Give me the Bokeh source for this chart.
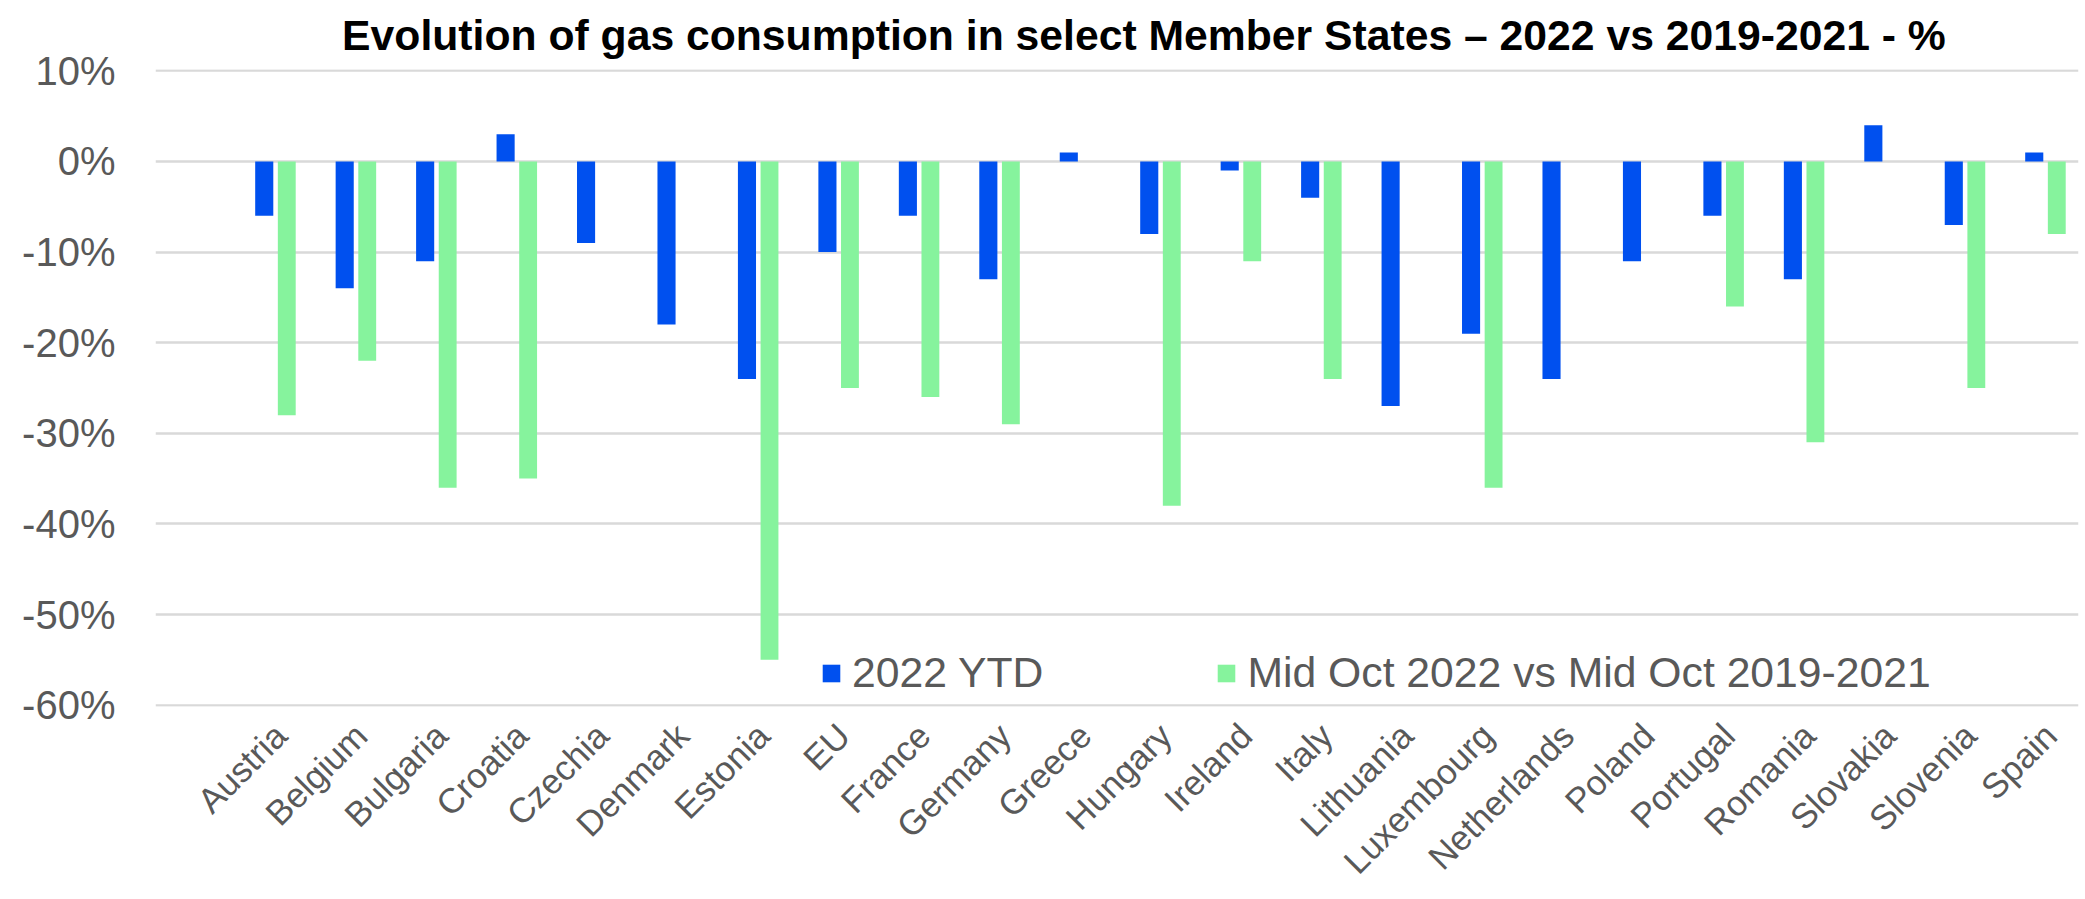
import math
import numpy as np
from bokeh.plotting import figure
from bokeh.models import (ColumnDataSource, Range1d, FixedTicker, NumeralTickFormatter,
                          Legend, LegendItem)
from bokeh.embed import file_html
from bokeh.resources import INLINE

categories = ["Austria", "Belgium", "Bulgaria", "Croatia", "Czechia", "Denmark", "Estonia",
              "EU", "France", "Germany", "Greece", "Hungary", "Ireland", "Italy", "Lithuania",
              "Luxembourg", "Netherlands", "Poland", "Portugal", "Romania", "Slovakia",
              "Slovenia", "Spain"]
ytd_2022 = [-6, -14, -11, 3, -9, -18, -24, -10, -6, -13, 1, -8, -1, -4, -27, -19, -24, -11,
            -6, -13, 4, -7, 1]
mid_oct = [-28, -22, -36, -35, None, None, -55, -25, -26, -29, None, -38, -11, -24, None,
           -36, None, None, -16, -31, None, -25, -8]
series_names = ["2022 YTD", "Mid Oct 2022 vs Mid Oct 2019-2021"]
y_ticks = [0.1, 0.0, -0.1, -0.2, -0.3, -0.4, -0.5, -0.6]
title_text = "Evolution of gas consumption in select Member States \u2013 2022 vs 2019-2021 - %"

BLUE = "#0050EF"
GREEN = "#86F39D"
GRAY = "#595959"
FONT = "Liberation Sans"

idx = np.arange(len(categories))
src_blue = ColumnDataSource(dict(x=idx - 0.14, top=np.array(ytd_2022) / 100.0))
g_idx = [i for i, v in enumerate(mid_oct) if v is not None]
src_green = ColumnDataSource(dict(x=np.array(g_idx) + 0.14,
                                  top=np.array([mid_oct[i] for i in g_idx]) / 100.0))

# category ticks, nudged slightly right so the rotated label ends sit like the original
tick_pos = [round(float(i) + 0.06, 2) for i in idx]

p = figure(width=2080, height=897, output_backend="svg", toolbar_location=None,
           x_range=Range1d(-1.4916, 22.41), y_range=Range1d(-0.6015, 0.1015),
           min_border_left=155, min_border_right=2, min_border_top=69, min_border_bottom=100)

p.title.text = title_text
p.title.text_font = FONT
p.title.text_font_size = "42.7px"
p.title.text_font_style = "bold"
p.title.text_color = "black"
p.title.align = "left"
p.title.offset = 186.6
p.title.vertical_align = "top"
p.title.standoff = 18

r_blue = p.vbar(x="x", top="top", bottom=0, width=0.225, source=src_blue,
                fill_color=BLUE, line_color=None)
r_green = p.vbar(x="x", top="top", bottom=0, width=0.222, source=src_green,
                 fill_color=GREEN, line_color=None)

p.outline_line_color = None
p.xgrid.grid_line_color = None
p.ygrid.grid_line_color = "#D9D9D9"
p.ygrid.grid_line_width = 2.5
p.ygrid.ticker = FixedTicker(ticks=y_ticks)

p.yaxis.ticker = FixedTicker(ticks=y_ticks)
p.yaxis.formatter = NumeralTickFormatter(format="0%")
p.yaxis.axis_line_color = None
p.yaxis.major_tick_line_color = None
p.yaxis.minor_tick_line_color = None
p.yaxis.major_tick_out = 0
p.yaxis.major_label_standoff = 40
p.yaxis.major_label_text_font = FONT
p.yaxis.major_label_text_font_size = "40px"
p.yaxis.major_label_text_color = GRAY

p.xaxis.ticker = FixedTicker(ticks=tick_pos)
p.xaxis.major_label_overrides = {t: c for t, c in zip(tick_pos, categories)}
p.xaxis.major_label_orientation = math.pi / 4
p.xaxis.axis_line_color = None
p.xaxis.major_tick_line_color = None
p.xaxis.minor_tick_line_color = None
p.xaxis.major_tick_out = 0
p.xaxis.major_label_standoff = 23
p.xaxis.major_label_text_font = FONT
p.xaxis.major_label_text_font_size = "35px"
p.xaxis.major_label_text_color = GRAY

legend = Legend(items=[LegendItem(label=series_names[0], renderers=[r_blue]),
                       LegendItem(label=series_names[1], renderers=[r_green])],
                orientation="horizontal", location=(665, 9),
                glyph_width=22, glyph_height=22, label_standoff=10, spacing=172,
                padding=0, margin=0, border_line_color=None, background_fill_alpha=0,
                label_text_font=FONT, label_text_font_size="42.7px",
                label_text_color=GRAY)
p.add_layout(legend, "center")

open("out.html", "w").write(file_html(p, INLINE))
